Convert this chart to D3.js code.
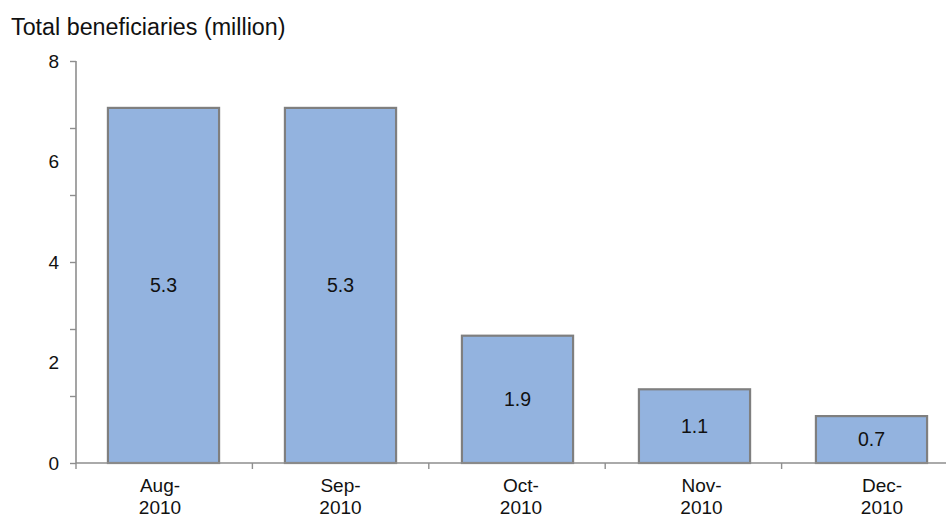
<!DOCTYPE html>
<html>
<head>
<meta charset="utf-8">
<script src="https://cdn.jsdelivr.net/npm/d3@7"></script>
<style>
  html, body { margin: 0; padding: 0; background: #fff; }
  svg { display: block; font-family: "Liberation Sans", Arial, sans-serif; }
</style>
</head>
<body>
<svg id="chart" width="946" height="518"></svg>
<script>
// Monthly beneficiaries, in millions
const months = ["Aug-2010", "Sep-2010", "Oct-2010", "Nov-2010", "Dec-2010"];
const beneficiaries = [5.3, 5.3, 1.9, 1.1, 0.7];

// Axis: minor tick marks every unit, labels printed at every 1.5 units
const tickMarks = [0, 1, 2, 3, 4, 5, 6];
const labelPositions = [0, 1.5, 3, 4.5, 6];
const tickLabels = ["0", "2", "4", "6", "8"];

const yTitle = "Total beneficiaries (million)";

const svg = d3.select("#chart");
const plot = { left: 76, top: 61, bottom: 463, right: 946 };

const y = d3.scaleLinear().domain([0, 6]).range([plot.bottom, plot.top]);
const x = d3.scaleBand().domain(months).range([75, 960]).paddingInner(0.372).paddingOuter(0.186);
const xLabel = d3.scalePoint().domain(months).range([160, 882]);

const axisColor = "#8e8e8e";

// Bars
svg.append("g").selectAll("rect")
  .data(months.map((m, i) => ({ m, v: beneficiaries[i] })))
  .join("rect")
  .attr("x", d => x(d.m))
  .attr("y", d => y(d.v))
  .attr("width", x.bandwidth())
  .attr("height", d => y(0) - y(d.v))
  .attr("fill", "#93b3df")
  .attr("stroke", "#7f7f7f")
  .attr("stroke-width", 2.2);

// Value labels in the middle of each bar
svg.append("g").selectAll("text")
  .data(months.map((m, i) => ({ m, v: beneficiaries[i] })))
  .join("text")
  .attr("x", d => x(d.m) + x.bandwidth() / 2)
  .attr("y", d => (y(d.v) + y(0)) / 2)
  .attr("dy", "0.35em")
  .attr("text-anchor", "middle")
  .attr("font-size", "19.5px")
  .attr("fill", "#111")
  .text(d => d.v.toFixed(1));

// Y axis line with tick marks
const yAxis = svg.append("g").attr("transform", `translate(${plot.left},0)`)
  .call(d3.axisLeft(y).tickValues(tickMarks).tickSize(6).tickFormat(""));
yAxis.select(".domain").attr("stroke", axisColor).attr("stroke-width", 1.6).attr("d", `M0,${plot.top}V${plot.bottom}`);
yAxis.selectAll(".tick line").attr("stroke", axisColor).attr("stroke-width", 1.4);

// Y tick labels
svg.append("g").selectAll("text")
  .data(labelPositions)
  .join("text")
  .attr("x", 59)
  .attr("y", d => y(d))
  .attr("dy", "0.36em")
  .attr("text-anchor", "end")
  .attr("font-size", "19px")
  .attr("fill", "#111")
  .text((d, i) => tickLabels[i]);

// X axis line with boundary ticks
const bounds = d3.range(months.length).map(i => plot.left + i * 176.4);
svg.append("line")
  .attr("x1", plot.left).attr("x2", plot.right)
  .attr("y1", plot.bottom).attr("y2", plot.bottom)
  .attr("stroke", axisColor).attr("stroke-width", 1.6);
svg.append("g").selectAll("line")
  .data(bounds)
  .join("line")
  .attr("x1", d => d).attr("x2", d => d)
  .attr("y1", plot.bottom).attr("y2", plot.bottom + 6)
  .attr("stroke", axisColor).attr("stroke-width", 1.4);

// Category labels on two lines
const cat = svg.append("g").selectAll("text")
  .data(months)
  .join("text")
  .attr("text-anchor", "middle")
  .attr("font-size", "19px")
  .attr("fill", "#111");
cat.append("tspan").attr("x", d => xLabel(d)).attr("y", 492).text(d => d.split("-")[0] + "-");
cat.append("tspan").attr("x", d => xLabel(d)).attr("y", 514).text(d => d.split("-")[1]);

// Axis title
svg.append("text")
  .attr("x", 11).attr("y", 35)
  .attr("font-size", "23.3px")
  .attr("fill", "#111")
  .text(yTitle);
</script>
</body>
</html>
